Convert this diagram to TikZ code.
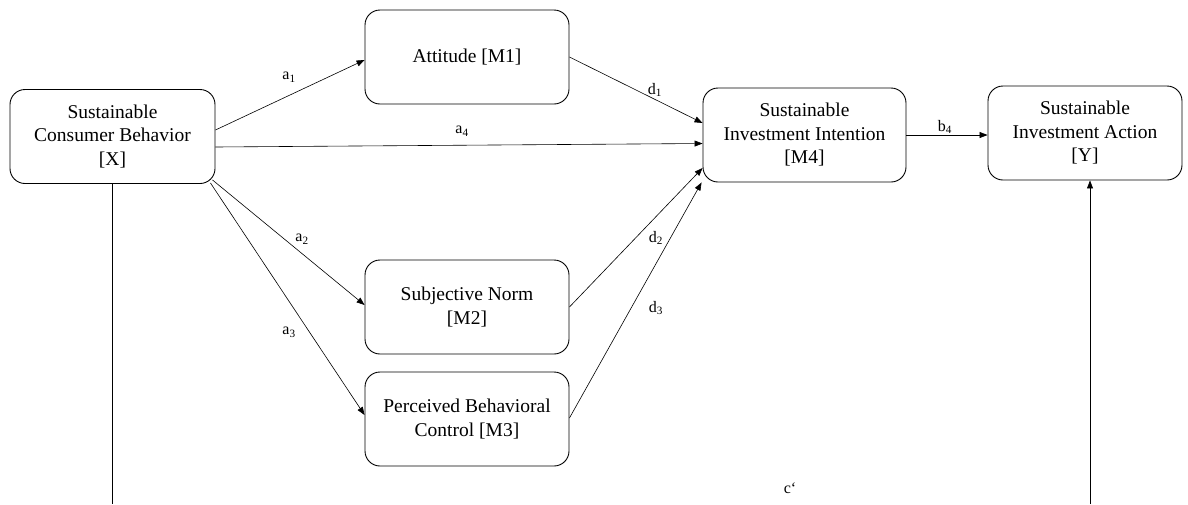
\documentclass[tikz,border=0pt]{standalone}
\usepackage{fontspec}
\setmainfont{Liberation Serif}
\usetikzlibrary{calc,arrows.meta}
\begin{document}
\begin{tikzpicture}[x=1pt,y=-1pt,
  var/.style={draw, line width=0.9pt, rounded corners=15pt, minimum height=94pt,
    align=center, inner sep=0pt, font=\fontsize{19.5}{23.5}\selectfont},
  conn/.style={line width=0.6pt, -{Triangle[length=8pt,width=6pt]}},
  plain/.style={line width=0.6pt},
  lbl/.style={inner sep=0pt, font=\fontsize{16}{18}\selectfont}]
\useasboundingbox (0,0) rectangle (1188,504);

% variables
\node[var, minimum width=205pt] (X)  at (112.5,136.5) {Sustainable\\Consumer Behavior\\{[X]}};
\node[var, minimum width=204pt] (M1) at (467,57)     {Attitude [M1]};
\node[var, minimum width=204pt] (M2) at (467,307)    {Subjective Norm\\{[M2]}};
\node[var, minimum width=204pt] (M3) at (467,419)    {Perceived Behavioral\\Control [M3]};
\node[var, minimum width=203pt] (M4) at (804.5,135)  {Sustainable\\Investment Intention\\{[M4]}};
\node[var, minimum width=194pt] (Y)  at (1085,133)   {Sustainable\\Investment Action\\{[Y]}};

% paths from X to the mediators
\draw[conn] ($(X.east)+(0,-6.5)$) -- ($(M1.west)+(0,3)$);
\draw[conn] ($(X.east)+(0,10.5)$) -- ($(M4.west)+(0,8.5)$);
\draw[conn] ($(X.south east)+(-3,-4)$) -- ($(M2.west)+(0,-2)$);
\draw[conn] ($(X.south east)+(-5,-1)$) -- ($(M3.west)+(0,-4)$);

% paths into the intention
\draw[conn] (M1.east) -- ($(M4.west)+(0,-12)$);
\draw[conn] (M2.east) -- ($(M4.west)+(0,33)$);
\draw[conn] ($(M3.east)+(0,-1)$) -- ($(M4.south west)+(-1,0)$);

% intention to action
\draw[conn] (M4.east) -- (M4.east -| Y.west);

% direct path c' (continues below the frame)
\coordinate (cx) at (112,504);
\coordinate (cy) at (1090,504);
\draw[plain] (X.south -| cx) -- (cx);
\draw[conn] (cy) -- (Y.south -| cy);

% path labels
\node[lbl] (la1) at (289,77)  {a\textsubscript{1}};
\node[lbl] (la4) at (462,131) {a\textsubscript{4}};
\node[lbl] (ld1) at (655,90)  {d\textsubscript{1}};
\node[lbl] (la2) at (302,239) {a\textsubscript{2}};
\node[lbl] (la3) at (289,332) {a\textsubscript{3}};
\node[lbl] (ld2) at (656,238) {d\textsubscript{2}};
\node[lbl] (ld3) at (656,308) {d\textsubscript{3}};
\node[lbl] (lb4) at (945,127) {b\textsubscript{4}};
\node[lbl] (lc)  at (790,488) {c‘};
\end{tikzpicture}
\end{document}
